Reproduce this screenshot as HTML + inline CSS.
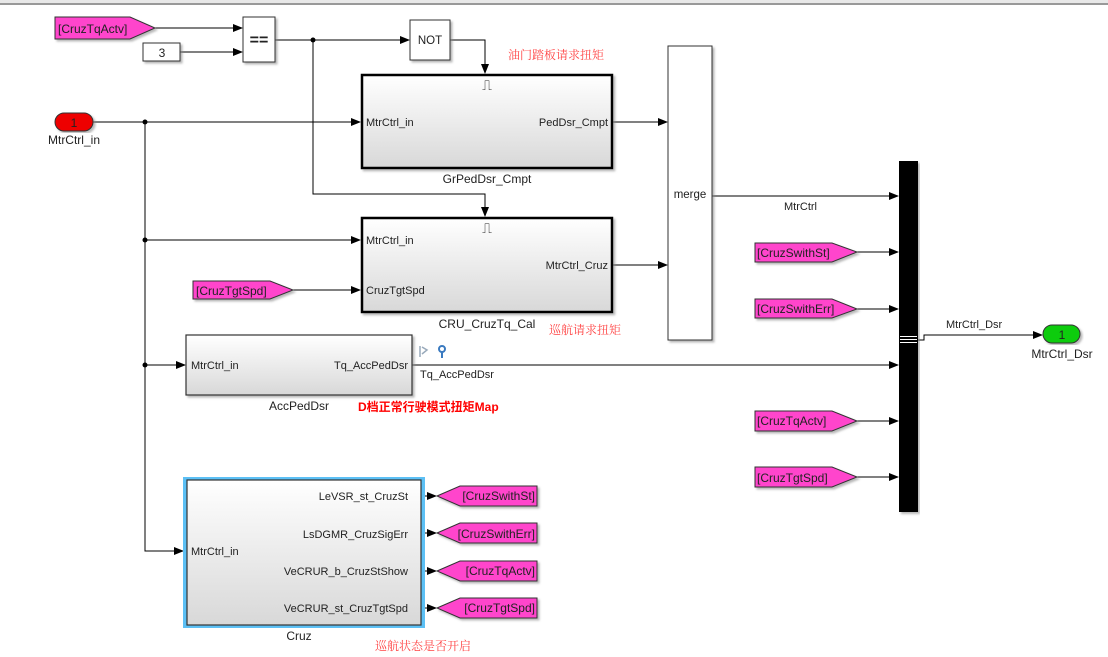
<!DOCTYPE html>
<html><head><meta charset="utf-8"><style>
html,body{margin:0;padding:0;background:#fff;width:1108px;height:657px;overflow:hidden}
svg{display:block}
text{font-family:"Liberation Sans","Noto Sans CJK SC",sans-serif;font-size:11px;fill:#222}
.cn{font-family:"Liberation Serif","Noto Serif CJK SC","Noto Sans CJK SC",serif;fill:#f44;font-size:12px}
.bn{font-size:12px}
</style></head><body>
<svg width="1108" height="657" viewBox="0 0 1108 657">
<defs>
<linearGradient id="g" x1="0" y1="0" x2="0" y2="1"><stop offset="0" stop-color="#fff"/><stop offset="1" stop-color="#d8d8d8"/></linearGradient>
<marker id="a" markerWidth="10" markerHeight="8" refX="9" refY="4" orient="auto" markerUnits="userSpaceOnUse"><path d="M0,0 L10,4 L0,8z" fill="#000"/></marker>
<filter id="sh"><feDropShadow dx="2" dy="2" stdDeviation="1" flood-color="#888" flood-opacity="0.6"/></filter>
</defs>
<rect x="0" y="0" width="1108" height="3" fill="#e8e8e8"/>
<line x1="0" y1="4" x2="1108" y2="4" stroke="#999" stroke-width="2"/>

<g fill="none" stroke="#000" stroke-width="1">
<path d="M155,28 H242" marker-end="url(#a)"/>
<path d="M180,52 H242" marker-end="url(#a)"/>
<path d="M275,40 H409" marker-end="url(#a)"/>
<path d="M450,40 H485 V73" marker-end="url(#a)"/>
<path d="M313,40 V194 H485 V216" marker-end="url(#a)"/>
<path d="M93,122 H360" marker-end="url(#a)"/>
<path d="M145,122 V551 H183" marker-end="url(#a)"/>
<path d="M145,240 H360" marker-end="url(#a)"/>
<path d="M145,365 H185" marker-end="url(#a)"/>
<path d="M293,290 H360" marker-end="url(#a)"/>
<path d="M612,122 H667" marker-end="url(#a)"/>
<path d="M612,265 H667" marker-end="url(#a)"/>
<path d="M712,196 H898" marker-end="url(#a)"/>
<path d="M412,365 H898" marker-end="url(#a)"/>
<path d="M857,252 H898" marker-end="url(#a)"/>
<path d="M857,309 H898" marker-end="url(#a)"/>
<path d="M857,421 H898" marker-end="url(#a)"/>
<path d="M857,477 H898" marker-end="url(#a)"/>
<path d="M918,340 H924 V335 H1042" marker-end="url(#a)"/>
<path d="M421,496 H436" marker-end="url(#a)"/>
<path d="M421,533 H436" marker-end="url(#a)"/>
<path d="M421,571 H436" marker-end="url(#a)"/>
<path d="M421,608 H436" marker-end="url(#a)"/>
</g>
<circle cx="313" cy="40" r="2.5"/><circle cx="145" cy="122" r="2.5"/><circle cx="145" cy="240" r="2.5"/><circle cx="145" cy="365" r="2.5"/>

<g stroke="#333" stroke-width="1" fill="#ff44cc" filter="url(#sh)">
<path d="M55,17 H130 L155,28 L130,39 H55z"/>
<path d="M193,281 H270 L293,290 L270,299 H193z"/>
<path d="M755,243 H832 L857,252 L832,262 H755z"/>
<path d="M755,299 H832 L857,309 L832,318 H755z"/>
<path d="M755,411 H832 L857,421 L832,431 H755z"/>
<path d="M755,467 H832 L857,477 L832,487 H755z"/>
<path d="M437,496 L460,486 H537 V506 H460z"/>
<path d="M437,533 L460,523 H537 V543 H460z"/>
<path d="M437,571 L460,561 H537 V581 H460z"/>
<path d="M437,608 L460,598 H537 V618 H460z"/>
</g>
<text x="58" y="33" class="bn">[CruzTqActv]</text>
<text x="196" y="295" class="bn">[CruzTgtSpd]</text>
<text x="757" y="257" class="bn">[CruzSwithSt]</text>
<text x="757" y="313" class="bn">[CruzSwithErr]</text>
<text x="757" y="425" class="bn">[CruzTqActv]</text>
<text x="757" y="482" class="bn">[CruzTgtSpd]</text>
<text x="535" y="500" text-anchor="end" class="bn">[CruzSwithSt]</text>
<text x="535" y="538" text-anchor="end" class="bn">[CruzSwithErr]</text>
<text x="535" y="575" text-anchor="end" class="bn">[CruzTqActv]</text>
<text x="535" y="612" text-anchor="end" class="bn">[CruzTgtSpd]</text>

<g fill="#fff" stroke="#333" filter="url(#sh)">
<rect x="143" y="43" width="37" height="18"/>
<rect x="243" y="17" width="32" height="45"/>
<rect x="410" y="20" width="40" height="40"/>
<rect x="668" y="46" width="44" height="294"/>
</g>
<text x="162" y="57" text-anchor="middle" class="bn">3</text>
<text x="259" y="45" text-anchor="middle" style="font-size:16px;font-weight:bold">==</text>
<text x="430" y="44" text-anchor="middle" style="font-size:11.5px">NOT</text>
<text x="690" y="198" text-anchor="middle" style="font-size:11.5px">merge</text>

<g stroke="#000" stroke-width="2.5" fill="url(#g)" filter="url(#sh)">
<rect x="362" y="75" width="250" height="93"/>
<rect x="362" y="218" width="250" height="94"/>
</g>
<rect x="186" y="335" width="226" height="60" fill="url(#g)" stroke="#333" stroke-width="1.2" filter="url(#sh)"/>
<rect x="183" y="477" width="242" height="151" fill="#5cc0f5"/>
<rect x="187" y="480" width="234" height="145" fill="url(#g)" stroke="#333" stroke-width="1.2"/>
<text x="487" y="90" text-anchor="middle" style="font-size:14px">⎍</text>
<text x="487" y="233" text-anchor="middle" style="font-size:14px">⎍</text>
<text x="366" y="126">MtrCtrl_in</text>
<text x="608" y="126" text-anchor="end">PedDsr_Cmpt</text>
<text x="487" y="183" text-anchor="middle" class="bn">GrPedDsr_Cmpt</text>
<text x="366" y="244">MtrCtrl_in</text>
<text x="366" y="294">CruzTgtSpd</text>
<text x="608" y="269" text-anchor="end">MtrCtrl_Cruz</text>
<text x="487" y="328" text-anchor="middle" class="bn">CRU_CruzTq_Cal</text>
<text x="191" y="369">MtrCtrl_in</text>
<text x="408" y="369" text-anchor="end">Tq_AccPedDsr</text>
<text x="299" y="410" text-anchor="middle" class="bn">AccPedDsr</text>
<text x="191" y="555">MtrCtrl_in</text>
<text x="408" y="500" text-anchor="end">LeVSR_st_CruzSt</text>
<text x="408" y="538" text-anchor="end">LsDGMR_CruzSigErr</text>
<text x="408" y="575" text-anchor="end">VeCRUR_b_CruzStShow</text>
<text x="408" y="612" text-anchor="end">VeCRUR_st_CruzTgtSpd</text>
<text x="299" y="640" text-anchor="middle" class="bn">Cruz</text>

<path d="M420,346 V357 M422,347 L427,350 L422,354" stroke="#9ab" fill="none" stroke-width="1.5"/>
<circle cx="442" cy="349" r="3" fill="none" stroke="#3a7ac0" stroke-width="2"/>
<line x1="442" y1="352" x2="442" y2="358" stroke="#3a7ac0" stroke-width="2"/>
<text x="420" y="378">Tq_AccPedDsr</text>
<text x="784" y="210">MtrCtrl</text>
<text x="946" y="328">MtrCtrl_Dsr</text>

<rect x="899" y="161" width="19" height="351" fill="#000" filter="url(#sh)"/>
<rect x="900" y="336" width="17" height="1" fill="#fff"/><rect x="900" y="339" width="17" height="1" fill="#fff"/><rect x="900" y="342" width="17" height="1" fill="#fff"/>

<rect x="55" y="113" width="38" height="18" rx="9" fill="#e00" stroke="#333" filter="url(#sh)"/>
<text x="74" y="127" text-anchor="middle" class="bn">1</text>
<text x="74" y="144" text-anchor="middle" class="bn">MtrCtrl_in</text>
<rect x="1043" y="325" width="37" height="18" rx="9" fill="#1c1" stroke="#333" filter="url(#sh)"/>
<text x="1062" y="339" text-anchor="middle" class="bn">1</text>
<text x="1062" y="358" text-anchor="middle" class="bn">MtrCtrl_Dsr</text>

<text class="cn" x="508" y="59">油门踏板请求扭矩</text>
<text class="cn" x="549" y="334">巡航请求扭矩</text>
<text x="358" y="411" style="fill:#f00;font-weight:bold;font-size:12px">D档正常行驶模式扭矩Map</text>
<text class="cn" x="375" y="650">巡航状态是否开启</text>
</svg>
</body></html>
